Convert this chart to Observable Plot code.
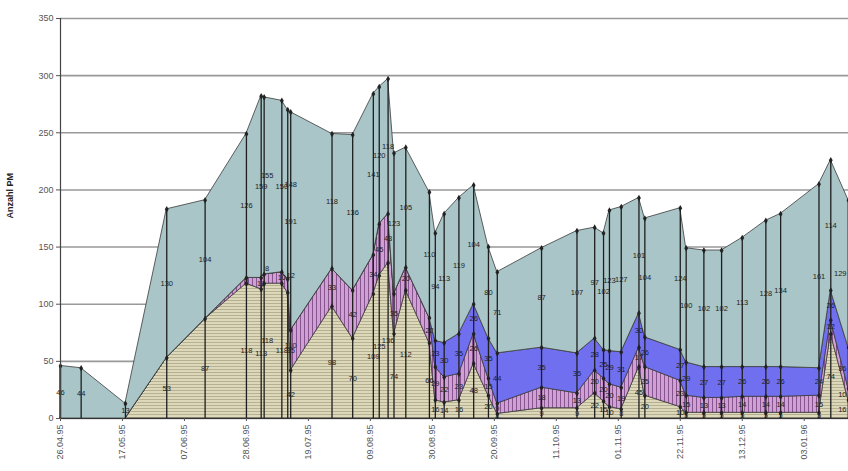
<!DOCTYPE html>
<html>
<head>
<meta charset="utf-8">
<script src="https://cdn.jsdelivr.net/npm/d3@7"></script>
<script src="https://cdn.jsdelivr.net/npm/@observablehq/plot@0.6"></script>
<style>
  html, body { margin: 0; padding: 0; background: white; }
  #chart { width: 848px; height: 471px; overflow: hidden; }
</style>
</head>
<body>
<div id="chart"></div>
<script>
// ---- data ----
const dates = [
  "1995-04-26","1995-05-03","1995-05-18","1995-06-01","1995-06-14","1995-06-28",
  "1995-07-03","1995-07-04","1995-07-10","1995-07-12","1995-07-13","1995-07-27",
  "1995-08-03","1995-08-10","1995-08-12","1995-08-15","1995-08-17","1995-08-21",
  "1995-08-29","1995-08-31","1995-09-03","1995-09-08","1995-09-13","1995-09-18",
  "1995-09-21","1995-10-06","1995-10-18","1995-10-24","1995-10-27","1995-10-29",
  "1995-11-02","1995-11-08","1995-11-10","1995-11-22","1995-11-24","1995-11-30",
  "1995-12-06","1995-12-13","1995-12-21","1995-12-26","1996-01-08","1996-01-12",
  "1996-01-18"
];
const serie1 = [0,0,0,53,87,118,113,118,118,110,42,98,70,109,125,136,74,112,66,16,14,16,48,20,4,9,9,22,15,10,8,45,20,10,5,5,5,5,5,5,5,74,16];
const serie2 = [0,0,0,0,0,5,10,8,10,12,35,33,42,34,45,43,35,20,22,29,22,23,26,15,9,18,13,20,20,20,19,17,25,23,15,13,13,14,14,14,15,12,10];
const serie3 = [0,0,0,0,0,0,0,0,0,0,0,0,0,0,0,0,0,0,0,23,30,35,26,35,44,35,35,28,25,29,31,30,26,27,29,27,27,26,26,26,24,26,36];
const serie4 = [46,44,13,130,104,126,159,155,150,148,191,118,136,141,120,118,123,105,110,94,113,119,104,80,71,87,107,97,102,123,127,101,104,124,100,102,102,113,128,134,161,114,129];
const seriesNames = ["Serie 1","Serie 2","Serie 3","Serie 4"];
const yTicks = [0,50,100,150,200,250,300,350];
const xTickDates = ["1995-04-26","1995-05-17","1995-06-07","1995-06-28","1995-07-19","1995-08-09","1995-08-30","1995-09-20","1995-10-11","1995-11-01","1995-11-22","1995-12-13","1996-01-03"];
const xTickLabels = ["26.04.95","17.05.95","07.06.95","28.06.95","19.07.95","09.08.95","30.08.95","20.09.95","11.10.95","01.11.95","22.11.95","13.12.95","03.01.96"];
const xDomain = ["1995-04-26","1996-01-18"];
const yTitle = "Anzahl PM";
const raisedLabelDates = ["1995-07-04","1995-07-12"];

// ---- build tables ----
const seriesValues = [serie1, serie2, serie3, serie4];
const rows = dates.flatMap((d, i) => seriesNames.map((s, k) => ({date: new Date(d), series: s, value: seriesValues[k][i]})));
const totals = dates.map((d, i) => ({date: new Date(d), total: serie1[i] + serie2[i] + serie3[i] + serie4[i]}));
const tickDates = xTickDates.map(d => new Date(d));
const labelMap = new Map(tickDates.map((d, i) => [+d, xTickLabels[i]]));
const lastDate = +new Date(dates[dates.length - 1]);
const raised = new Set(raisedLabelDates.map(d => +new Date(d)));

const fills = ["url(#hstripe)", "url(#vstripe)", "#6f6ff0", "#a9c5c7"];
const stackOpts = {x: "date", y: "value", z: "series", order: seriesNames};
const textBase = {text: "value", fontSize: 7.5, fill: "#222"};

const chart = Plot.plot({
  width: 848,
  height: 471,
  marginLeft: 60,
  marginRight: 0,
  marginTop: 18,
  marginBottom: 53,
  style: {fontFamily: "'Liberation Sans', Arial, sans-serif", background: "white", overflow: "hidden"},
  x: {type: "utc", domain: xDomain.map(d => new Date(d))},
  y: {domain: [0, 350]},
  color: {domain: seriesNames, range: fills},
  marks: [
    Plot.ruleY(yTicks, {stroke: "#999", strokeWidth: 1.6}),
    Plot.areaY(rows, {...stackOpts, fill: "series", stroke: "#3a3a3a", strokeWidth: 0.8}),
    Plot.ruleX(totals, {x: "date", y1: 0, y2: "total", stroke: "#1e1e1e", strokeWidth: 1.3}),
    Plot.dot(rows, Plot.stackY2({...stackOpts, filter: d => d.value > 0, r: 2, symbol: "diamond", fill: "#222", stroke: "none"})),
    Plot.text(rows, Plot.stackY({...stackOpts, ...textBase, filter: d => d.value > 0 && +d.date !== lastDate && !raised.has(+d.date)})),
    Plot.text(rows, Plot.stackY({...stackOpts, ...textBase, filter: d => d.value > 0 && raised.has(+d.date), dy: -10, dx: 3})),
    Plot.text(rows, Plot.stackY({...stackOpts, ...textBase, filter: d => d.value > 0 && +d.date === lastDate, textAnchor: "end", dx: -2})),
    Plot.ruleY([0], {stroke: "#333", strokeWidth: 1.2}),
    Plot.ruleX([new Date(xDomain[0])], {stroke: "#444", strokeWidth: 1.2}),
    Plot.axisY({ticks: yTicks, tickSize: 4, tickPadding: 3, fontSize: 9, color: "#555", label: null}),
    Plot.axisX({ticks: tickDates, tickFormat: d => labelMap.get(+d), tickRotate: -90, tickSize: 3, tickPadding: 3, fontSize: 9, color: "#555", label: null}),
    Plot.text([yTitle], {frameAnchor: "left", rotate: -90, dx: -50, fontSize: 9, fontWeight: "bold", fill: "#222"})
  ]
});

// stripe patterns
const svg = d3.select(chart);
const defs = svg.insert("defs", ":first-child");
const hp = defs.append("pattern").attr("id", "hstripe").attr("patternUnits", "userSpaceOnUse").attr("width", 4).attr("height", 3);
hp.append("rect").attr("width", 4).attr("height", 3).attr("fill", "#ddd8ba");
hp.append("rect").attr("y", 0).attr("width", 4).attr("height", 1).attr("fill", "#b6b093");
const vp = defs.append("pattern").attr("id", "vstripe").attr("patternUnits", "userSpaceOnUse").attr("width", 4).attr("height", 4);
vp.append("rect").attr("width", 4).attr("height", 4).attr("fill", "#d0a0d4");
vp.append("rect").attr("x", 0).attr("width", 1).attr("height", 4).attr("fill", "#86548f");

document.getElementById("chart").appendChild(chart);
</script>
</body>
</html>
